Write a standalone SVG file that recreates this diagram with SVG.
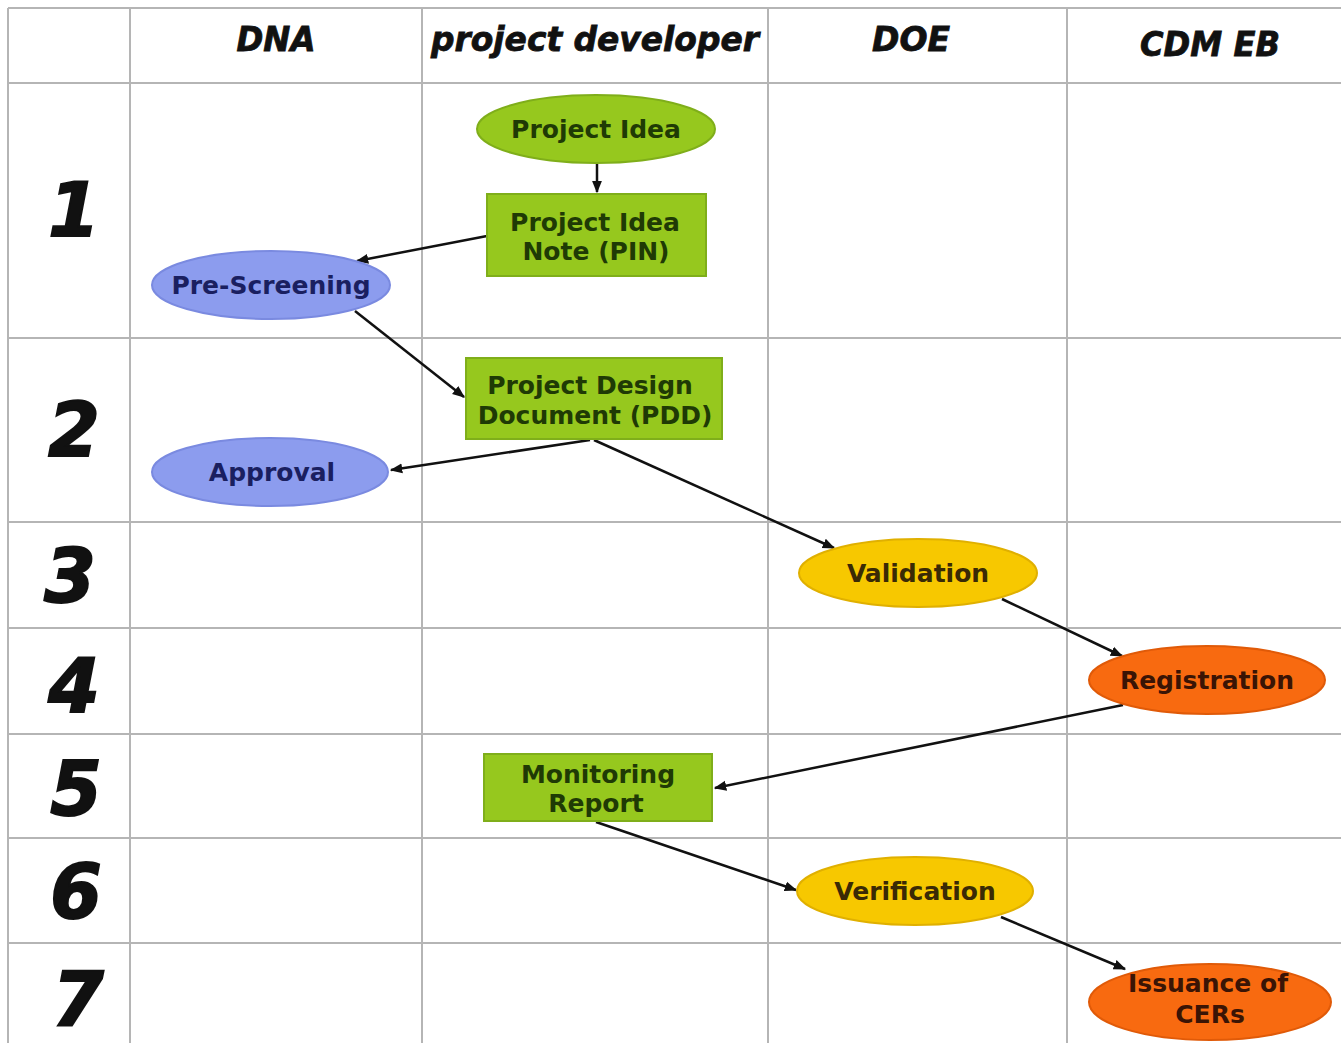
<svg xmlns="http://www.w3.org/2000/svg" width="1341" height="1043" viewBox="0 0 1341 1043">
<defs>
<marker id="ah" viewBox="0 0 10 10" refX="9" refY="5" markerWidth="5" markerHeight="5" orient="auto" markerUnits="strokeWidth">
<path d="M0,1 L10,5 L0,9 z" fill="#111"/>
</marker>
<style>
.grid line{stroke:#b5b5b5;stroke-width:2}
.hdr{font-family:"DejaVu Sans",Verdana,sans-serif;font-weight:bold;font-style:italic;font-size:33px;fill:#111;stroke:#111;stroke-width:0.8;text-anchor:middle}
.num{font-family:"DejaVu Sans",Verdana,sans-serif;font-weight:bold;font-style:italic;font-size:74px;fill:#111;stroke:#111;stroke-width:2;text-anchor:middle}
.lbl{font-family:"DejaVu Sans",Verdana,sans-serif;font-weight:bold;font-size:25px;text-anchor:middle}
.green{fill:#96c81e;stroke:#7fae1a;stroke-width:2}
.blue{fill:#8c9cee;stroke:#7a8ae0;stroke-width:2}
.yellow{fill:#f7c800;stroke:#e0b000;stroke-width:2}
.orange{fill:#f86a10;stroke:#e05a08;stroke-width:2}
.tg{fill:#1f3a05}
.tb{fill:#1a1f60}
.ty{fill:#3a2a05}
.to{fill:#3a1405}
.conn line{stroke:#111;stroke-width:2.5;marker-end:url(#ah)}
</style>
</defs>
<rect width="1341" height="1043" fill="#ffffff"/>
<g class="grid">
<line x1="8" y1="8" x2="1341" y2="8"/>
<line x1="8" y1="83" x2="1341" y2="83"/>
<line x1="8" y1="338" x2="1341" y2="338"/>
<line x1="8" y1="522" x2="1341" y2="522"/>
<line x1="8" y1="628" x2="1341" y2="628"/>
<line x1="8" y1="734" x2="1341" y2="734"/>
<line x1="8" y1="838" x2="1341" y2="838"/>
<line x1="8" y1="943" x2="1341" y2="943"/>
<line x1="8" y1="8" x2="8" y2="1043"/>
<line x1="130" y1="8" x2="130" y2="1043"/>
<line x1="422" y1="8" x2="422" y2="1043"/>
<line x1="768" y1="8" x2="768" y2="1043"/>
<line x1="1067" y1="8" x2="1067" y2="1043"/>
</g>
<g id="headers">
<text class="hdr" x="276" y="51" textLength="79" lengthAdjust="spacingAndGlyphs">DNA</text>
<text class="hdr" x="595" y="51" textLength="328" lengthAdjust="spacingAndGlyphs">project developer</text>
<text class="hdr" x="911" y="51" textLength="78" lengthAdjust="spacingAndGlyphs">DOE</text>
<text class="hdr" x="1210" y="56" textLength="140" lengthAdjust="spacingAndGlyphs">CDM EB</text>
</g>
<g id="rows">
<text class="num" x="74" y="236">1</text>
<text class="num" x="74" y="456">2</text>
<text class="num" x="70" y="602">3</text>
<text class="num" x="74" y="712">4</text>
<text class="num" x="76" y="815">5</text>
<text class="num" x="76" y="918">6</text>
<text class="num" x="78" y="1025">7</text>
</g>
<g class="conn">
<line x1="597" y1="164" x2="597" y2="192"/>
<line x1="487" y1="236" x2="357" y2="261"/>
<line x1="355" y1="311" x2="464" y2="397"/>
<line x1="590" y1="440" x2="391" y2="470"/>
<line x1="594" y1="440" x2="834" y2="548"/>
<line x1="1002" y1="599" x2="1122" y2="656"/>
<line x1="1123" y1="705" x2="715" y2="788"/>
<line x1="596" y1="822" x2="796" y2="890"/>
<line x1="1001" y1="917" x2="1125" y2="969"/>
</g>
<g id="project-idea">
<ellipse class="green" cx="596" cy="129" rx="119" ry="34"/>
<text class="lbl tg" x="596" y="138">Project Idea</text>
</g>
<g id="pin">
<rect class="green" x="487" y="194" width="219" height="82"/>
<text class="lbl tg" x="595" y="231">Project Idea</text>
<text class="lbl tg" x="596" y="260">Note (PIN)</text>
</g>
<g id="pre-screening">
<ellipse class="blue" cx="271" cy="285" rx="119" ry="34"/>
<text class="lbl tb" x="271" y="294">Pre-Screening</text>
</g>
<g id="pdd">
<rect class="green" x="466" y="358" width="256" height="81"/>
<text class="lbl tg" x="590" y="394">Project Design</text>
<text class="lbl tg" x="595" y="424">Document (PDD)</text>
</g>
<g id="approval">
<ellipse class="blue" cx="270" cy="472" rx="118" ry="34"/>
<text class="lbl tb" x="272" y="481">Approval</text>
</g>
<g id="validation">
<ellipse class="yellow" cx="918" cy="573" rx="119" ry="34"/>
<text class="lbl ty" x="918" y="582">Validation</text>
</g>
<g id="registration">
<ellipse class="orange" cx="1207" cy="680" rx="118" ry="34"/>
<text class="lbl to" x="1207" y="689">Registration</text>
</g>
<g id="monitoring-report">
<rect class="green" x="484" y="754" width="228" height="67"/>
<text class="lbl tg" x="598" y="783">Monitoring</text>
<text class="lbl tg" x="596" y="812">Report</text>
</g>
<g id="verification">
<ellipse class="yellow" cx="915" cy="891" rx="118" ry="34"/>
<text class="lbl ty" x="915" y="900">Verification</text>
</g>
<g id="issuance">
<ellipse class="orange" cx="1210" cy="1002" rx="121" ry="38"/>
<text class="lbl to" x="1208" y="992">Issuance of</text>
<text class="lbl to" x="1210" y="1023">CERs</text>
</g>
</svg>
